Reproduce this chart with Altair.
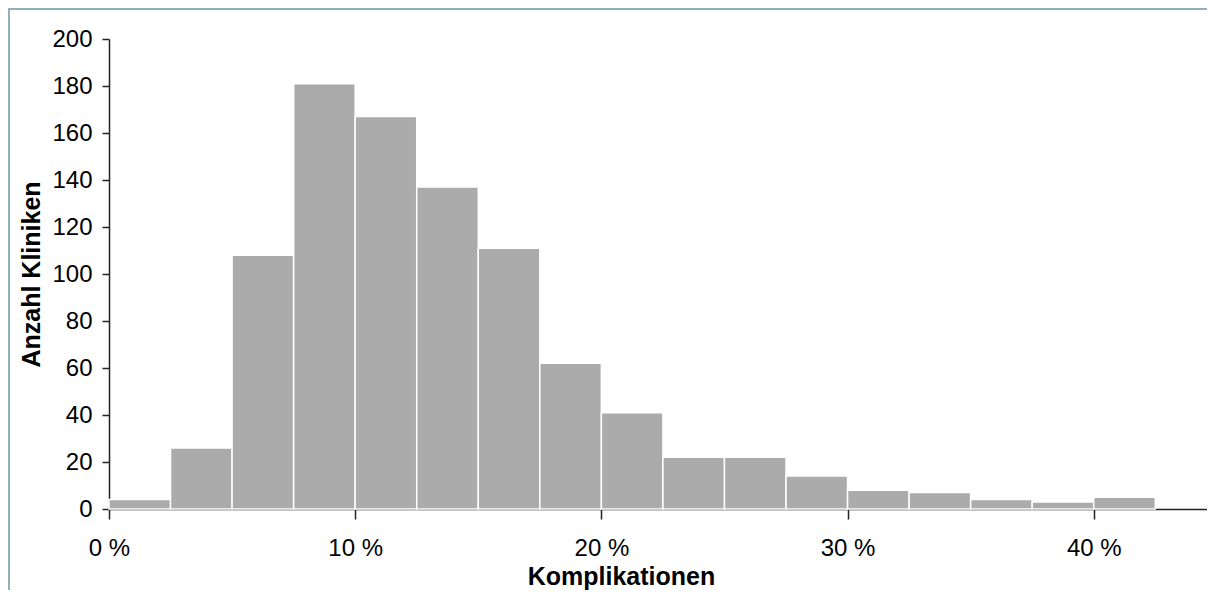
import altair as alt
import pandas as pd

bin_start = [0, 2.5, 5, 7.5, 10, 12.5, 15, 17.5, 20, 22.5, 25, 27.5, 30, 32.5, 35, 37.5, 40]
bin_end = [2.5, 5, 7.5, 10, 12.5, 15, 17.5, 20, 22.5, 25, 27.5, 30, 32.5, 35, 37.5, 40, 42.5]
counts = [4, 26, 108, 181, 167, 137, 111, 62, 41, 22, 22, 14, 8, 7, 4, 3, 5]
x_ticks = [0, 10, 20, 30, 40]
y_ticks = [0, 20, 40, 60, 80, 100, 120, 140, 160, 180, 200]

df = pd.DataFrame({"start": bin_start, "end": bin_end, "count": counts})

FONT = "Liberation Sans"
FRAME = "#8fb0b8"

bars = alt.Chart(df).mark_bar(color="#ababab", stroke="white", strokeWidth=1.5).encode(
    x=alt.X(
        "start:Q",
        scale=alt.Scale(domain=[0, 44.6], nice=False, zero=False),
        axis=alt.Axis(
            values=x_ticks,
            labelExpr="datum.value + ' %'",
            labelFlush=False,
            title="Komplikationen",
            titleX=512,
            titleY=75,
            titleAlign="center",
            titleBaseline="alphabetic",
            tickSize=10,
            labelPadding=36,
            labelBaseline="alphabetic",
        ),
    ),
    x2="end:Q",
    y=alt.Y(
        "count:Q",
        scale=alt.Scale(domain=[0, 200], nice=False),
        axis=alt.Axis(
            values=y_ticks,
            labelFlush=False,
            title="Anzahl Kliniken",
            titleX=-70,
            titleY=235,
            titleAngle=270,
            titleAlign="center",
            titleBaseline="alphabetic",
            tickSize=7,
            labelPadding=10,
        ),
    ),
    y2=alt.datum(0),
)

frame_df = pd.DataFrame({"a": [0]})
top_line = alt.Chart(frame_df).mark_rule(color=FRAME, strokeWidth=2).encode(
    x=alt.value(-101), x2=alt.value(1099), y=alt.value(-30)
)
left_line = alt.Chart(frame_df).mark_rule(color=FRAME, strokeWidth=2).encode(
    x=alt.value(-100), y=alt.value(-31), y2=alt.value(560)
)

chart = alt.layer(bars, top_line, left_line).properties(
    width=1098,
    height=470,
    padding={"left": 101, "top": 31, "right": 0, "bottom": 81},
    autosize=alt.AutoSizeParams(type="none"),
).configure_view(stroke=None).configure_axis(
    grid=False,
    labelFont=FONT,
    labelFontSize=24,
    labelColor="#000000",
    titleFont=FONT,
    titleFontSize=25,
    titleFontWeight="bold",
    titleColor="#000000",
    domainColor="#222222",
    domainWidth=1.5,
    tickColor="#222222",
    tickWidth=1.5,
)

chart.save("out.html", embed_options={"renderer": "svg", "actions": False})
